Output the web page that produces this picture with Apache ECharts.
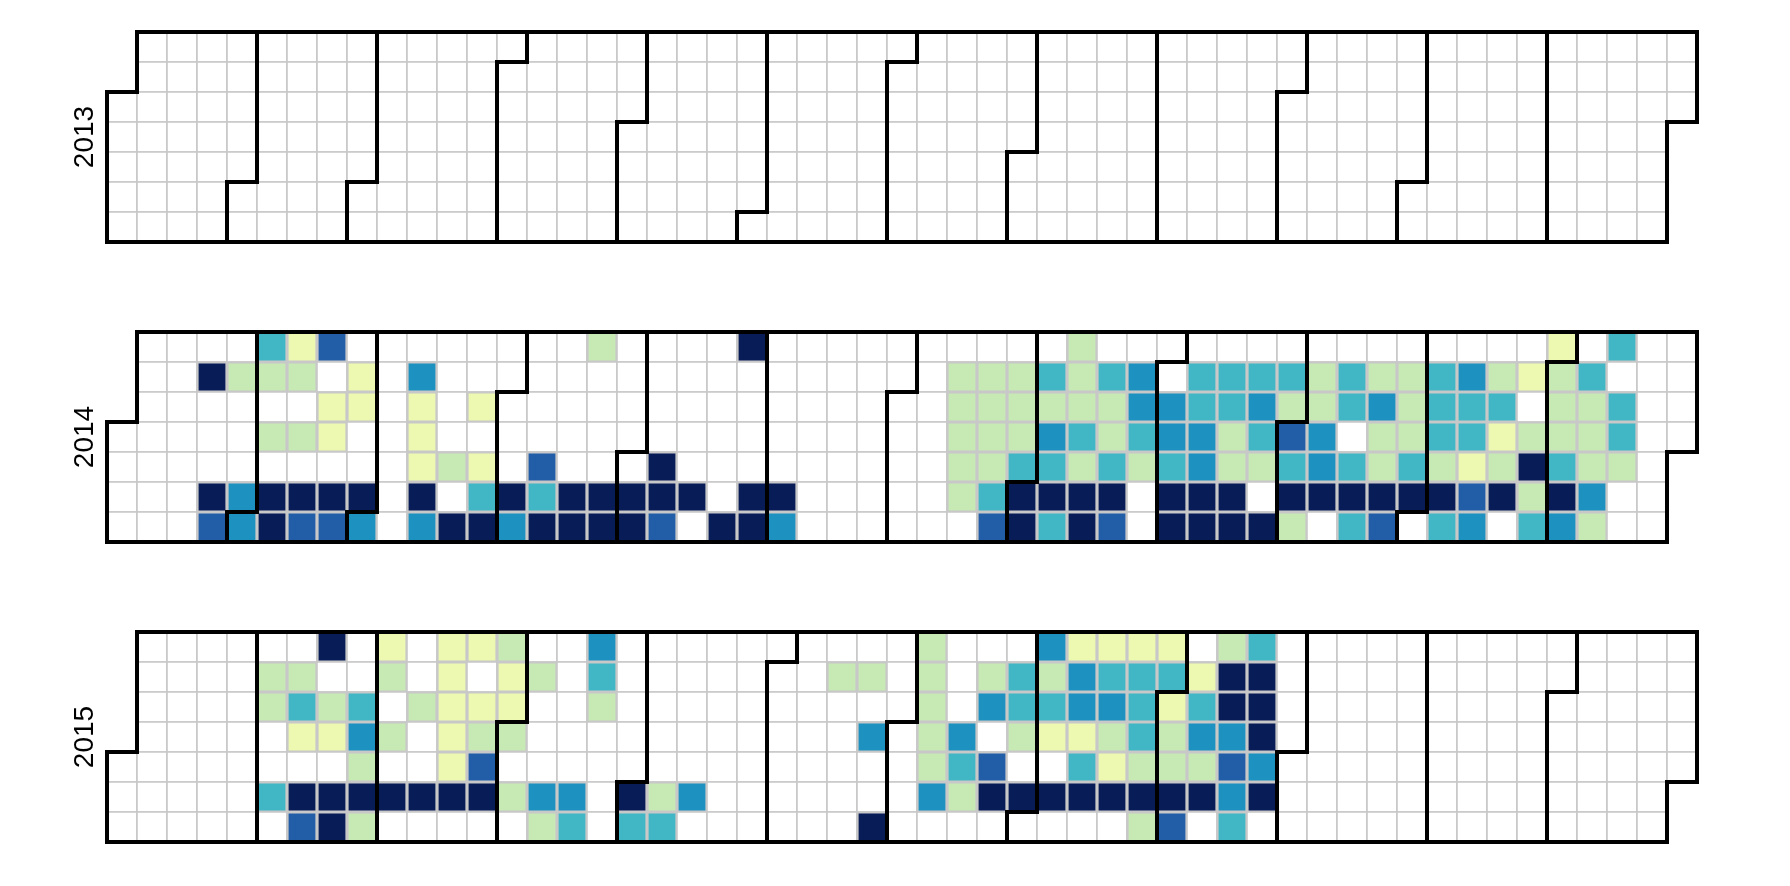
<!DOCTYPE html>
<html>
<head>
<meta charset="utf-8">
<script src="https://cdn.jsdelivr.net/npm/echarts@6/dist/echarts.min.js"></script>
<style>html,body{margin:0;padding:0;background:#fff;}#c{width:1790px;height:886px;}</style>
</head>
<body>
<div id="c"></div>
<script>
// Levels: 1..6 (YlGnBu classes)
const years = ['2013', '2014', '2015'];
const levelColors = ['#edf8b1', '#c7e9b4', '#41b6c4', '#1d91c0', '#225ea8', '#081d58'];
const levelValues = [1, 2, 3, 4, 5, 6];

const data2013 = [];

const data2014 = [
  ['2014-01-20',6],['2014-01-24',6],['2014-01-25',5],
  ['2014-01-27',2],['2014-01-31',4],['2014-02-01',4],
  ['2014-02-02',3],['2014-02-03',2],['2014-02-05',2],['2014-02-07',6],['2014-02-08',6],
  ['2014-02-09',1],['2014-02-10',2],['2014-02-12',2],['2014-02-14',6],['2014-02-15',5],
  ['2014-02-16',5],['2014-02-18',1],['2014-02-19',1],['2014-02-21',6],['2014-02-22',5],
  ['2014-02-24',1],['2014-02-25',1],['2014-02-28',6],['2014-03-01',4],
  ['2014-03-10',4],['2014-03-11',1],['2014-03-12',1],['2014-03-13',1],['2014-03-14',6],['2014-03-15',4],
  ['2014-03-20',2],['2014-03-22',6],
  ['2014-03-25',1],['2014-03-27',1],['2014-03-28',3],['2014-03-29',6],
  ['2014-04-04',6],['2014-04-05',4],
  ['2014-04-10',5],['2014-04-11',3],['2014-04-12',6],
  ['2014-04-18',6],['2014-04-19',6],
  ['2014-04-20',2],['2014-04-25',6],['2014-04-26',6],
  ['2014-05-02',6],['2014-05-03',6],
  ['2014-05-08',6],['2014-05-09',6],['2014-05-10',5],
  ['2014-05-16',6],
  ['2014-05-24',6],
  ['2014-05-25',6],['2014-05-30',6],['2014-05-31',6],
  ['2014-06-06',6],['2014-06-07',4],
  ['2014-07-14',2],['2014-07-15',2],['2014-07-16',2],['2014-07-17',2],['2014-07-18',2],
  ['2014-07-21',2],['2014-07-22',2],['2014-07-23',2],['2014-07-24',2],['2014-07-25',3],['2014-07-26',5],
  ['2014-07-28',2],['2014-07-29',2],['2014-07-30',2],['2014-07-31',3],['2014-08-01',6],['2014-08-02',6],
  ['2014-08-04',3],['2014-08-05',2],['2014-08-06',4],['2014-08-07',3],['2014-08-08',6],['2014-08-09',3],
  ['2014-08-10',2],['2014-08-11',2],['2014-08-12',2],['2014-08-13',3],['2014-08-14',2],['2014-08-15',6],['2014-08-16',6],
  ['2014-08-18',3],['2014-08-19',2],['2014-08-20',2],['2014-08-21',3],['2014-08-22',6],['2014-08-23',5],
  ['2014-08-25',4],['2014-08-26',4],['2014-08-27',3],['2014-08-28',2],
  ['2014-09-02',4],['2014-09-03',4],['2014-09-04',3],['2014-09-05',6],['2014-09-06',6],
  ['2014-09-08',3],['2014-09-09',3],['2014-09-10',4],['2014-09-11',4],['2014-09-12',6],['2014-09-13',6],
  ['2014-09-15',3],['2014-09-16',3],['2014-09-17',2],['2014-09-18',2],['2014-09-19',6],['2014-09-20',6],
  ['2014-09-22',3],['2014-09-23',4],['2014-09-24',3],['2014-09-25',2],['2014-09-27',6],
  ['2014-09-29',3],['2014-09-30',2],['2014-10-01',5],['2014-10-02',3],['2014-10-03',6],['2014-10-04',2],
  ['2014-10-06',2],['2014-10-07',2],['2014-10-08',4],['2014-10-09',4],['2014-10-10',6],
  ['2014-10-13',3],['2014-10-14',3],['2014-10-16',3],['2014-10-17',6],['2014-10-18',3],
  ['2014-10-20',2],['2014-10-21',4],['2014-10-22',2],['2014-10-23',2],['2014-10-24',6],['2014-10-25',5],
  ['2014-10-27',2],['2014-10-28',2],['2014-10-29',2],['2014-10-30',3],['2014-10-31',6],
  ['2014-11-03',3],['2014-11-04',3],['2014-11-05',3],['2014-11-06',2],['2014-11-07',6],['2014-11-08',3],
  ['2014-11-10',4],['2014-11-11',3],['2014-11-12',3],['2014-11-13',1],['2014-11-14',5],['2014-11-15',4],
  ['2014-11-17',2],['2014-11-18',3],['2014-11-19',1],['2014-11-20',2],['2014-11-21',6],
  ['2014-11-24',1],['2014-11-26',2],['2014-11-27',6],['2014-11-28',2],['2014-11-29',3],
  ['2014-11-30',1],['2014-12-01',2],['2014-12-02',2],['2014-12-03',2],['2014-12-04',3],['2014-12-05',6],['2014-12-06',4],
  ['2014-12-08',3],['2014-12-09',2],['2014-12-10',2],['2014-12-11',2],['2014-12-12',4],['2014-12-13',2],
  ['2014-12-14',3],['2014-12-16',3],['2014-12-17',3],['2014-12-18',2]
];

const data2015 = [
  ['2015-02-02',2],['2015-02-03',2],['2015-02-06',3],
  ['2015-02-09',2],['2015-02-10',3],['2015-02-11',1],['2015-02-13',6],['2015-02-14',5],
  ['2015-02-15',6],['2015-02-17',2],['2015-02-18',1],['2015-02-20',6],['2015-02-21',6],
  ['2015-02-24',3],['2015-02-25',4],['2015-02-26',2],['2015-02-27',6],['2015-02-28',2],
  ['2015-03-01',1],['2015-03-02',2],['2015-03-04',2],['2015-03-06',6],
  ['2015-03-10',2],['2015-03-13',6],
  ['2015-03-15',1],['2015-03-16',1],['2015-03-17',1],['2015-03-18',1],['2015-03-19',1],['2015-03-20',6],
  ['2015-03-22',1],['2015-03-24',1],['2015-03-25',2],['2015-03-26',5],['2015-03-27',6],
  ['2015-03-29',2],['2015-03-30',1],['2015-03-31',1],['2015-04-01',2],['2015-04-03',2],
  ['2015-04-06',2],['2015-04-10',4],['2015-04-11',2],
  ['2015-04-17',4],['2015-04-18',3],
  ['2015-04-19',4],['2015-04-20',3],['2015-04-21',2],
  ['2015-05-01',6],['2015-05-02',3],
  ['2015-05-08',2],['2015-05-09',3],
  ['2015-05-15',4],
  ['2015-06-15',2],
  ['2015-06-22',2],['2015-06-24',4],['2015-06-27',6],
  ['2015-07-05',2],['2015-07-06',2],['2015-07-07',2],['2015-07-08',2],['2015-07-09',2],['2015-07-10',4],
  ['2015-07-15',4],['2015-07-16',3],['2015-07-17',2],
  ['2015-07-20',2],['2015-07-21',4],['2015-07-23',5],['2015-07-24',6],
  ['2015-07-27',3],['2015-07-28',3],['2015-07-29',2],['2015-07-31',6],
  ['2015-08-02',4],['2015-08-03',2],['2015-08-04',3],['2015-08-05',1],['2015-08-07',6],
  ['2015-08-09',1],['2015-08-10',4],['2015-08-11',4],['2015-08-12',1],['2015-08-13',3],['2015-08-14',6],
  ['2015-08-16',1],['2015-08-17',3],['2015-08-18',4],['2015-08-19',2],['2015-08-20',1],['2015-08-21',6],
  ['2015-08-23',1],['2015-08-24',3],['2015-08-25',3],['2015-08-26',3],['2015-08-27',2],['2015-08-28',6],['2015-08-29',2],
  ['2015-08-30',1],['2015-08-31',3],['2015-09-01',1],['2015-09-02',2],['2015-09-03',2],['2015-09-04',6],['2015-09-05',5],
  ['2015-09-07',1],['2015-09-08',3],['2015-09-09',4],['2015-09-10',2],['2015-09-11',6],
  ['2015-09-13',2],['2015-09-14',6],['2015-09-15',6],['2015-09-16',4],['2015-09-17',5],['2015-09-18',4],['2015-09-19',3],
  ['2015-09-20',3],['2015-09-21',6],['2015-09-22',6],['2015-09-23',6],['2015-09-24',4],['2015-09-25',6]
];

const yearData = [data2013, data2014, data2015];
const tops = [32, 332, 632];

const chart = echarts.init(document.getElementById('c'), null, {renderer: 'canvas'});

const calendars = years.map((y, i) => ({
  range: y,
  orient: 'horizontal',
  left: 107,
  top: tops[i],
  cellSize: [30, 30],
  dayLabel: {show: false},
  monthLabel: {show: false},
  yearLabel: {
    show: true, position: 'left', margin: 8,
    color: '#000', fontSize: 28, fontWeight: 'normal',
    fontFamily: '"Liberation Sans", Arial, Helvetica, sans-serif'
  },
  itemStyle: {color: '#fff', borderColor: '#c8c8c8', borderWidth: 1.6},
  splitLine: {show: true, lineStyle: {color: '#000', width: 4}}
}));

const series = years.map((y, i) => ({
  type: 'heatmap',
  coordinateSystem: 'calendar',
  calendarIndex: i,
  data: yearData[i],
  itemStyle: {borderColor: '#c8c8c8', borderWidth: 1.6},
  emphasis: {disabled: true}
}));

chart.setOption({
  backgroundColor: '#fff',
  animation: false,
  tooltip: {show: false},
  visualMap: {
    type: 'piecewise',
    show: false,
    dimension: 1,
    pieces: levelValues.map((v, k) => ({value: v, color: levelColors[k]}))
  },
  calendar: calendars,
  series: series
});
</script>
</body>
</html>
